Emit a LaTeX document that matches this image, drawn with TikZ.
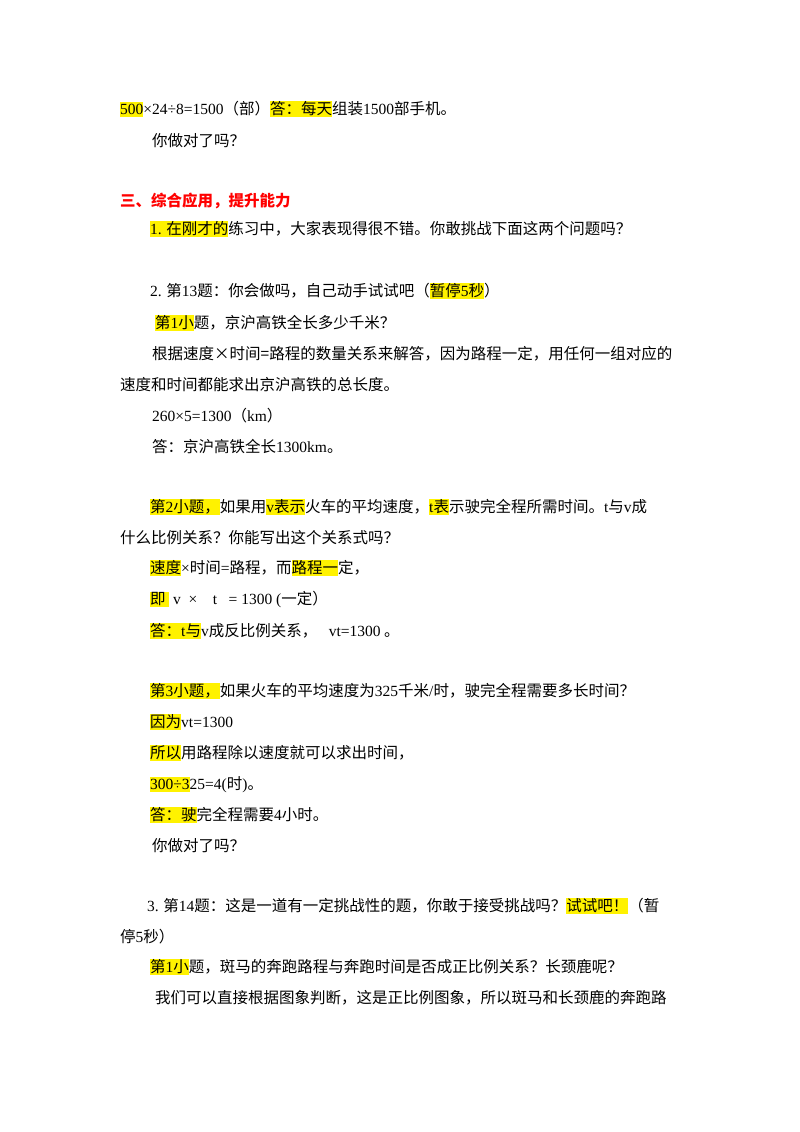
\documentclass[tikz,border=0pt]{standalone}
\usepackage{fontspec}
\setmainfont{Noto Sans CJK SC}
\newfontfamily\lat{Liberation Serif}
\newcommand{\hl}[1]{{\setlength{\fboxsep}{0pt}\colorbox{yellow}{\rule[-3pt]{0pt}{15pt}#1}}}
\newcommand{\lt}[1]{{\lat #1}}
\begin{document}
\begin{tikzpicture}[x=1pt,y=-1pt,
  ln/.style={anchor=base west,inner sep=0pt,font=\fontsize{15.5}{18}\selectfont}]
\useasboundingbox (0,0) rectangle (800,1132);
\node[ln] (l1) at (120,114) {\hl{\lt{500}}\lt{×24÷8=1500}（部）\hl{答：每天}组装\lt{1500}部手机。};
\node[ln] (l2) at (152,146) {你做对了吗？};
\node[ln,text=red,font=\fontsize{15.5}{18}\selectfont\bfseries] (h) at (120,206) {三、综合应用，提升能力};
\node[ln] (l3) at (150,234) {\hl{\lt{1.} 在刚才的}练习中，大家表现得很不错。你敢挑战下面这两个问题吗？};
\node[ln] (l4) at (150,296) {\lt{2.} 第\lt{13}题：你会做吗，自己动手试试吧（\hl{暂停\lt{5}秒}）};
\node[ln] (l5) at (155,328) {\hl{第\lt{1}小}题，京沪高铁全长多少千米？};
\node[ln] (l6) at (152,359) {根据速度×时间=路程的数量关系来解答，因为路程一定，用任何一组对应的};
\node[ln] (l7) at (120,390) {速度和时间都能求出京沪高铁的总长度。};
\node[ln] (l8) at (152,421) {\lt{260×5=1300}（\lt{km}）};
\node[ln] (l9) at (152,452) {答：京沪高铁全长\lt{1300km}。};
\node[ln] (l10) at (150,512) {\hl{第\lt{2}小题，}如果用\hl{\lt{v}表示}火车的平均速度，\hl{\lt{t}表}示驶完全程所需时间。\lt{t}与\lt{v}成};
\node[ln] (l11) at (120,543) {什么比例关系？你能写出这个关系式吗？};
\node[ln] (l12) at (150,573) {\hl{速度}\lt{×}时间\lt{=}路程，而\hl{路程一}定，};
\node[ln] (l13) at (150,604) {\hl{即\ }\lt{\ v\ \ ×\ \ \ \ t\ \ \ = 1300 (}一定）};
\node[ln] (l14) at (150,636) {\hl{答：\lt{t}与}\lt{v}成反比例关系，\lt{\ \ \ vt=1300} 。};
\node[ln] (l15) at (150,696) {\hl{第\lt{3}小题，}如果火车的平均速度为\lt{325}千米\lt{/}时，驶完全程需要多长时间？};
\node[ln] (l16) at (150,727) {\hl{因为}\lt{vt=1300}};
\node[ln] (l17) at (150,758) {\hl{所以}用路程除以速度就可以求出时间，};
\node[ln] (l18) at (150,789) {\hl{\lt{300÷3}}\lt{25=4(}时\lt{)}。};
\node[ln] (l19) at (150,820) {\hl{答：驶}完全程需要\lt{4}小时。};
\node[ln] (l20) at (152,851) {你做对了吗？};
\node[ln] (l21) at (147,911) {\lt{3.} 第\lt{14}题：这是一道有一定挑战性的题，你敢于接受挑战吗？\hl{试试吧！}（暂};
\node[ln] (l22) at (120,942) {停\lt{5}秒）};
\node[ln] (l23) at (150,972) {\hl{第\lt{1}小}题，斑马的奔跑路程与奔跑时间是否成正比例关系？长颈鹿呢？};
\node[ln] (l24) at (155,1003) {我们可以直接根据图象判断，这是正比例图象，所以斑马和长颈鹿的奔跑路};
\end{tikzpicture}
\end{document}
